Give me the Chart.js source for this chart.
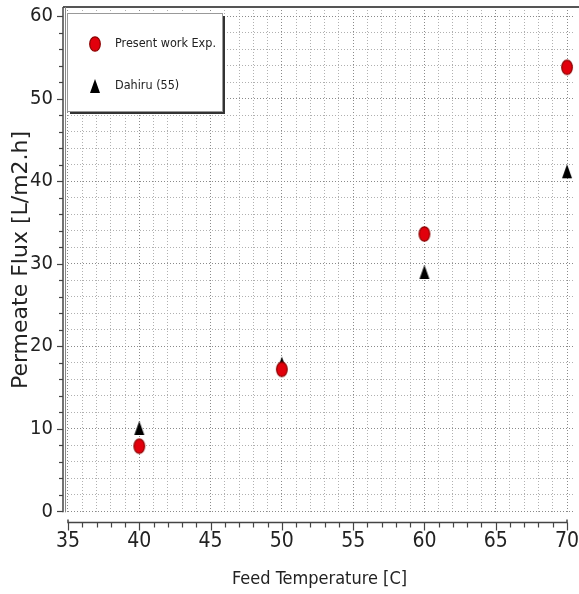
<!DOCTYPE html>
<html>
<head>
<meta charset="utf-8">
<script src="https://cdn.jsdelivr.net/npm/chart.js@4.4.0/dist/chart.umd.min.js"></script>
<style>
  html, body { margin: 0; padding: 0; background: #fff; }
  #wrap { width: 579px; height: 594px; }
</style>
</head>
<body>
<div id="wrap"><canvas id="fluxChart"></canvas></div>
<script>
// --- Data ---
const feedTemps = [40, 50, 60, 70];
const presentWork = [7.9, 17.2, 33.6, 53.8];
const dahiru = [10.1, 17.9, 29.0, 41.2];
const seriesLabels = ['Present work Exp.', 'Dahiru (55)'];
const xMajorTicks = [35, 40, 45, 50, 55, 60, 65, 70];
const yMajorTicks = [0, 10, 20, 30, 40, 50, 60];
const xMinorStep = 1;
const yMinorStep = 2;

// minor grid positions between first and last major tick
function minorTicks(major, step) {
  const out = [];
  for (let v = major[0]; v <= major[major.length - 1] + 1e-9; v += step) out.push(v);
  return out;
}
const isMajor = (list, v) => list.some(m => Math.abs(m - v) < 1e-6);

// --- Marker images ---
function makeEllipse() {
  const c = document.createElement('canvas');
  c.width = 14; c.height = 18;
  const g = c.getContext('2d');
  g.beginPath();
  g.ellipse(7, 9, 5.3, 7.2, 0, 0, Math.PI * 2);
  g.fillStyle = '#e2000c';
  g.fill();
  g.strokeStyle = '#8c0000';
  g.lineWidth = 1.2;
  g.stroke();
  return c;
}
function makeTriangle() {
  const c = document.createElement('canvas');
  c.width = 12; c.height = 16;
  const g = c.getContext('2d');
  g.beginPath();
  g.moveTo(6, 1); g.lineTo(11, 15); g.lineTo(1, 15); g.closePath();
  g.fillStyle = '#000';
  g.fill();
  return c;
}
const ellipseImg = makeEllipse();
const triangleImg = makeTriangle();

const textColor = '#222';
const narrow = '"DejaVu Sans Condensed", "Liberation Sans Narrow", "Liberation Sans", sans-serif';

// --- Axes, frame and legend drawn on top of library scales ---
const framePlugin = {
  id: 'frame',
  afterDraw(chart) {
    const { ctx, chartArea, scales } = chart;
    const xs = scales.x, ys = scales.y;
    ctx.save();

    // top border
    ctx.strokeStyle = '#555';
    ctx.lineWidth = 2;
    ctx.beginPath();
    ctx.moveTo(chartArea.left - 2, chartArea.top);
    ctx.lineTo(chart.width, chartArea.top);
    ctx.stroke();

    // left double line
    const y0 = ys.getPixelForValue(0);
    ctx.lineWidth = 1;
    ctx.strokeStyle = '#888';
    ctx.beginPath();
    ctx.moveTo(chartArea.left + 0.5, chartArea.top);
    ctx.lineTo(chartArea.left + 0.5, y0 + 1);
    ctx.stroke();
    ctx.strokeStyle = '#444';
    ctx.lineWidth = 1.5;
    const ax = chartArea.left - 2;
    ctx.beginPath();
    ctx.moveTo(ax, chartArea.top);
    ctx.lineTo(ax, y0 + 1);
    ctx.stroke();

    // y ticks
    ctx.lineWidth = 1.2;
    minorTicks(yMajorTicks, yMinorStep).forEach(v => {
      const py = Math.round(ys.getPixelForValue(v)) + 0.5;
      const len = isMajor(yMajorTicks, v) ? 6 : 4;
      ctx.beginPath();
      ctx.moveTo(ax - len, py);
      ctx.lineTo(ax, py);
      ctx.stroke();
    });

    // x axis line, offset below plot
    const ay = chartArea.bottom + 9.5;
    const xa = xs.getPixelForValue(xMajorTicks[0]);
    const xb = xs.getPixelForValue(xMajorTicks[xMajorTicks.length - 1]);
    ctx.lineWidth = 1.5;
    ctx.beginPath();
    ctx.moveTo(xa, ay - 3);
    ctx.lineTo(xa, ay);
    ctx.lineTo(xb, ay);
    ctx.lineTo(xb, ay - 3);
    ctx.stroke();
    ctx.lineWidth = 1.2;
    minorTicks(xMajorTicks, xMinorStep).forEach(v => {
      const px = Math.round(xs.getPixelForValue(v)) + 0.5;
      const len = isMajor(xMajorTicks, v) ? 8 : 5;
      ctx.beginPath();
      ctx.moveTo(px, ay);
      ctx.lineTo(px, ay + len);
      ctx.stroke();
    });

    // legend box with shadow
    const bx = 67, by = 13, bw = 155, bh = 98;
    ctx.fillStyle = '#333';
    ctx.fillRect(bx + 3, by + 3, bw, bh);
    ctx.fillStyle = '#fff';
    ctx.fillRect(bx, by, bw, bh);
    ctx.strokeStyle = '#999';
    ctx.lineWidth = 1;
    ctx.strokeRect(bx + 0.5, by + 0.5, bw, bh);

    ctx.fillStyle = textColor;
    ctx.font = '12.5px ' + narrow;
    ctx.textBaseline = 'middle';
    const rows = [44, 86];
    chart.data.datasets.forEach((ds, i) => {
      const img = ds.pointStyle;
      ctx.drawImage(img, 95 - img.width / 2, rows[i] - img.height / 2);
      ctx.fillText(ds.label, 115, rows[i]);
    });

    ctx.restore();
  }
};

const ctx1 = document.getElementById('fluxChart');
const fluxChart = new Chart(ctx1, {
  type: 'scatter',
  data: {
    datasets: [
      { label: seriesLabels[0], data: feedTemps.map((x, i) => ({ x, y: presentWork[i] })),
        pointStyle: ellipseImg },
      { label: seriesLabels[1], data: feedTemps.map((x, i) => ({ x, y: dahiru[i] })),
        pointStyle: triangleImg }
    ]
  },
  options: {
    responsive: true,
    maintainAspectRatio: false,
    animation: false,
    layout: { padding: { top: 7, right: 0, left: 0, bottom: 0 } },
    plugins: { legend: { display: false }, tooltip: { enabled: false } },
    scales: {
      x: {
        type: 'linear',
        min: 34.79,
        max: 70.49,
        afterBuildTicks: s => { s.ticks = minorTicks(xMajorTicks, xMinorStep).map(v => ({ value: v })); },
        afterFit: s => { s.height = 81; s.paddingLeft = 0; s.paddingRight = 0; },
        grid: {
          drawTicks: false,
          lineWidth: 1,
          color: c => isMajor(xMajorTicks, c.tick.value) ? '#8a8a8a' : '#b0b0b0'
        },
        border: { display: false, dash: [1, 2] },
        ticks: {
          autoSkip: false, maxRotation: 0, padding: 16,
          color: textColor,
          font: { family: narrow, size: 21 },
          callback: v => isMajor(xMajorTicks, v) ? String(v) : ''
        },
        title: {
          display: true, text: 'Feed Temperature [C]', color: textColor,
          font: { family: narrow, size: 18 }, padding: { top: 0, bottom: 4 }
        }
      },
      y: {
        type: 'linear',
        min: -0.2,
        max: 61.1,
        afterBuildTicks: s => { s.ticks = minorTicks(yMajorTicks, yMinorStep).map(v => ({ value: v })); },
        afterFit: s => { s.width = 65; s.paddingTop = 0; s.paddingBottom = 0; },
        grid: {
          drawTicks: false,
          lineWidth: 1,
          color: c => isMajor(yMajorTicks, c.tick.value) ? '#8a8a8a' : '#b0b0b0'
        },
        border: { display: false, dash: [1, 2] },
        ticks: {
          autoSkip: false, padding: 12,
          color: textColor,
          font: { family: narrow, size: 20 },
          callback: v => isMajor(yMajorTicks, v) ? String(v) : ''
        },
        title: {
          display: true, text: 'Permeate Flux [L/m2.h]', color: textColor,
          font: { family: '"DejaVu Sans", Verdana, sans-serif', size: 22 }, padding: { top: 8, bottom: 0 }
        }
      }
    }
  },
  plugins: [framePlugin]
});
</script>
</body>
</html>
